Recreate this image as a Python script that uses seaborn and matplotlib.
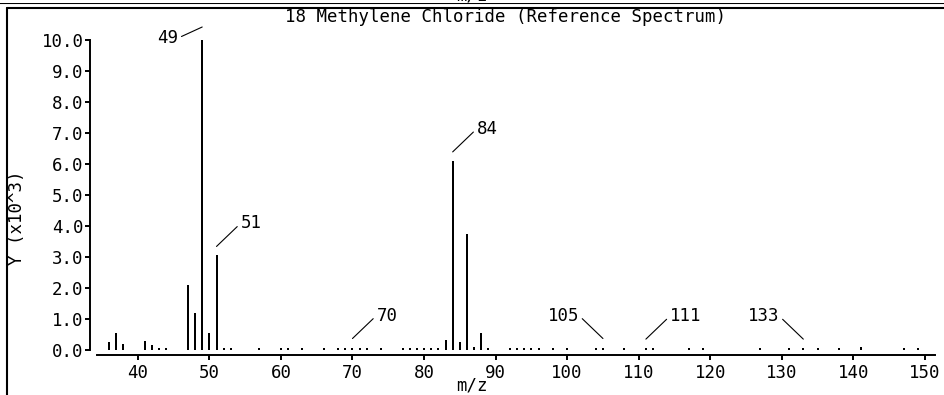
import matplotlib
matplotlib.use("Agg")
import matplotlib.pyplot as plt
import matplotlib.transforms as mtransforms
from matplotlib.lines import Line2D
from matplotlib.ticker import FormatStrFormatter, MultipleLocator
import seaborn as sns

# m/z values and intensities (x10^3)
mz = [36, 37, 38, 41, 42, 43, 44, 47, 48, 49, 50, 51, 52, 53, 57, 60, 61, 63,
      66, 68, 69, 70, 71, 72, 74, 77, 78, 79, 80, 81, 82, 83, 84, 85, 86, 87,
      88, 89, 92, 93, 94, 95, 96, 98, 100, 104, 105, 108, 111, 112, 117, 119,
      127, 131, 133, 135, 138, 141, 147, 149]
intensity = [0.25, 0.55, 0.2, 0.3, 0.17, 0.06, 0.06, 2.1, 1.2, 10.0, 0.56, 3.05,
             0.08, 0.06, 0.06, 0.06, 0.06, 0.06, 0.06, 0.06, 0.08, 0.08, 0.06,
             0.06, 0.06, 0.06, 0.06, 0.06, 0.06, 0.06, 0.08, 0.32, 6.1, 0.27,
             3.75, 0.1, 0.55, 0.06, 0.06, 0.06, 0.06, 0.06, 0.06, 0.06, 0.06,
             0.06, 0.08, 0.07, 0.06, 0.06, 0.06, 0.06, 0.06, 0.06, 0.06, 0.06,
             0.06, 0.1, 0.06, 0.06]

# labelled peaks and which side the label goes
label_mz = [49, 51, 70, 84, 105, 111, 133]
label_side = ["top-left", "right", "right", "right", "left", "right", "left"]

title = "18 Methylene Chloride (Reference Spectrum)"
x_ticks = list(range(40, 151, 10))
y_ticks = list(range(0, 11))

sns.set_theme(style="ticks")
plt.rcParams["font.family"] = ["DejaVu Sans Mono", "DejaVu Sans"]
plt.rcParams["text.color"] = "black"
FS = 12.5

W, H = 945, 395
fig = plt.figure(figsize=(W / 100, H / 100), dpi=100)
ax = fig.add_axes([97 / W, 45 / H, (935 - 97) / W, (350 - 40) / H])

sns.barplot(x=mz, y=intensity, native_scale=True, color="black",
            width=0.28, linewidth=0, saturation=1, ax=ax)

ax.set_xlim(34.3, 151.4)
ax.set_ylim(0, 10)
ax.set_xticks(x_ticks)
ax.set_yticks(y_ticks)
ax.yaxis.set_major_formatter(FormatStrFormatter("%.1f"))
ax.set_xlabel("")
ax.set_ylabel("")

for s in ["top", "right"]:
    ax.spines[s].set_visible(False)
ax.spines["left"].set_position(("outward", 5.0))
ax.spines["bottom"].set_position(("outward", 3.6))
for s in ["left", "bottom"]:
    ax.spines[s].set_linewidth(1.4)
    ax.spines[s].set_color("black")
ax.tick_params(axis="both", length=3.6, width=1.4, color="black",
               labelsize=FS, labelcolor="black")
ax.tick_params(axis="y", pad=1)
ax.tick_params(axis="x", pad=3)

# peak labels with leader lines
for m, side in zip(label_mz, label_side):
    h = intensity[mz.index(m)]
    if side == "top-left":
        start = mtransforms.offset_copy(ax.transData, fig, x=0, y=13, units="dots")
        xyt, ha, rel = (-24, -11), "right", (1, 0.5)
    elif side == "left":
        start = mtransforms.offset_copy(ax.transData, fig, x=0, y=9, units="dots")
        xyt, ha, rel = (-24, 23), "right", (1, 0.5)
    else:
        start = mtransforms.offset_copy(ax.transData, fig, x=0, y=9, units="dots")
        xyt, ha, rel = (24, 23), "left", (0, 0.5)
    ax.annotate(str(m), xy=(m, h), xycoords=start, xytext=xyt,
                textcoords="offset pixels", ha=ha, va="center", fontsize=FS,
                color="black", annotation_clip=False,
                arrowprops=dict(arrowstyle="-", lw=0.8, color="black",
                                shrinkA=0, shrinkB=0, relpos=rel))

# titles and axis names
fig.text(506 / W, 1 - 17 / H, title, ha="center", va="center", fontsize=FS,
         color="black")
fig.text(17 / W, 1 - 218 / H, "Y (x10^3)", ha="center", va="center",
         rotation=90, fontsize=FS, color="black")
fig.text(472 / W, 1 / H, "m/z", ha="center", va="bottom", fontsize=FS,
         color="black")
fig.text(472 / W, 1 - 1 / H, "m/z", ha="center", va="baseline", fontsize=FS,
         color="black")

# panel frame lines
def px_line(x0, y0, x1, y1, lw=1.5):
    fig.add_artist(Line2D([x0 / W, x1 / W], [1 - y0 / H, 1 - y1 / H],
                          transform=fig.transFigure, color="black", lw=lw))

fig.patches.append(plt.Rectangle((0, 1 - 3 / H), 1, 3 / H, transform=fig.transFigure,
                                 facecolor="white", edgecolor="none", zorder=2))
px_line(0, 3, W, 3)
px_line(1, 0, 1, 3)
px_line(7, 7.5, W, 7.5)
px_line(7, 7.5, 7, H)

fig.savefig("out.png", dpi=100)
